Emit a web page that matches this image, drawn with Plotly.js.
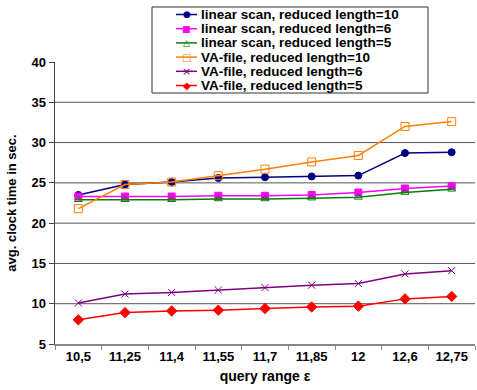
<!DOCTYPE html>
<html>
<head>
<meta charset="utf-8">
<script src="https://cdn.plot.ly/plotly-3.0.1.min.js"></script>
<style>html,body{margin:0;padding:0;background:#fff;}#chart{width:477px;height:390px;}</style>
</head>
<body>
<div id="chart"></div>
<script>
// ---- data ----
const categories = ["10,5", "11,25", "11,4", "11,55", "11,7", "11,85", "12", "12,6", "12,75"];
const seriesNames = [
  "linear scan, reduced length=10",
  "linear scan, reduced length=6",
  "linear scan, reduced length=5",
  "VA-file, reduced length=10",
  "VA-file, reduced length=6",
  "VA-file, reduced length=5"
];
const linearScan10 = [23.5, 24.8, 25.1, 25.6, 25.7, 25.8, 25.9, 28.7, 28.8];
const linearScan6  = [23.3, 23.3, 23.3, 23.4, 23.4, 23.5, 23.8, 24.3, 24.6];
const linearScan5  = [22.9, 22.9, 22.9, 23.0, 23.0, 23.1, 23.2, 23.8, 24.2];
const vaFile10     = [21.8, 24.8, 25.1, 25.9, 26.7, 27.6, 28.4, 32.0, 32.6];
const vaFile6      = [10.1, 11.2, 11.4, 11.7, 12.0, 12.3, 12.5, 13.7, 14.1];
const vaFile5      = [8.0, 8.9, 9.1, 9.2, 9.4, 9.6, 9.7, 10.6, 10.9];
const yTicks = [5, 10, 15, 20, 25, 30, 35, 40];
const gridValues = [10, 15, 20, 25, 30, 35];

// ---- styles ----
const allValues = [linearScan10, linearScan6, linearScan5, vaFile10, vaFile6, vaFile5];
const colors = ["#000080", "#ff00ff", "#008000", "#ff8000", "#800080", "#ff0000"];
const symbols = ["circle", "square", "triangle-up-open", "square-open", "x-thin-open", "diamond"];
const sizes = [7, 7, 7, 8, 7, 8];
const glyphs = ["●", "■", "△", "□", "×", "◆"];
const glyphSizes = [9, 9, 9, 10, 11, 10];

const FONT = "'Liberation Sans', Arial, sans-serif";
const LEGEND_TEXT_WIDTH = 200;   // target width of the longest legend entry (px)

const traces = allValues.map((vals, i) => ({
  type: "scatter",
  mode: "lines+markers",
  x: categories,
  y: vals,
  name: seriesNames[i],
  line: {color: colors[i], width: 1.5},
  marker: {symbol: symbols[i], size: sizes[i], color: colors[i],
           line: {color: colors[i], width: 1}},
  showlegend: false
}));

// grid lines (no line at 40)
const shapes = gridValues.map(v => ({
  type: "line", xref: "paper", yref: "y", x0: 0, x1: 1, y0: v, y1: v,
  line: {color: "#555", width: 1}, layer: "below"
}));

// manual legend (compact, Excel-like)
const plotH = 282, plotBottomPx = 344, plotLeftPx = 55, plotW = 420;
const px2x = px => (px - plotLeftPx) / plotW;
const py2y = py => (plotBottomPx - py) / plotH;
shapes.push({
  type: "rect", xref: "paper", yref: "paper",
  x0: px2x(152), x1: px2x(428), y0: py2y(93), y1: py2y(7),
  fillcolor: "#fff", line: {color: "#333", width: 1}, layer: "above"
});
const annotations = [];
const legendTextIdx = [];
seriesNames.forEach((name, i) => {
  const rowPy = 14.5 + i * 14.2;
  shapes.push({
    type: "line", xref: "paper", yref: "paper",
    x0: px2x(176), x1: px2x(197), y0: py2y(rowPy), y1: py2y(rowPy),
    line: {color: colors[i], width: 1.5}, layer: "above"
  });
  annotations.push({
    xref: "paper", yref: "paper", x: px2x(186.5), y: py2y(rowPy),
    text: glyphs[i], showarrow: false, xanchor: "center", yanchor: "middle",
    font: {family: "DejaVu Sans", size: glyphSizes[i], color: colors[i]}
  });
  legendTextIdx.push(annotations.length);
  annotations.push({
    xref: "paper", yref: "paper", x: px2x(199), y: py2y(rowPy),
    text: name, showarrow: false, xanchor: "left", yanchor: "middle",
    font: {family: FONT, size: 13.5, color: "#000", weight: "bold"}
  });
});

const layout = {
  width: 477, height: 390,
  margin: {l: 55, r: 2, t: 62, b: 46},
  paper_bgcolor: "#fff", plot_bgcolor: "#fff",
  font: {family: FONT, size: 13, color: "#000"},
  showlegend: false,
  xaxis: {
    type: "category", range: [-0.5, categories.length - 0.5],
    showgrid: false, zeroline: false,
    showline: true, linecolor: "#888", linewidth: 1.5,
    ticks: "outside", tickson: "boundaries", ticklen: 4, tickcolor: "#888",
    tickfont: {family: FONT, size: 13, color: "#000", weight: "bold"},
    title: {text: "query range ε", font: {family: FONT, size: 14, color: "#000", weight: "bold"}, standoff: 8}
  },
  yaxis: {
    range: [5, 40], tickvals: yTicks, ticktext: yTicks.map(String),
    showgrid: false, zeroline: false,
    showline: true, linecolor: "#444", linewidth: 1.5,
    ticks: "outside", ticklen: 5, tickcolor: "#444",
    tickfont: {family: FONT, size: 13, color: "#000", weight: "bold"},
    title: {text: "avg. clock time in sec.", font: {family: FONT, size: 13, color: "#000", weight: "bold"}, standoff: 12}
  },
  shapes: shapes,
  annotations: annotations
};

Plotly.newPlot("chart", traces, layout, {displayModeBar: false, staticPlot: true}).then(gd => {
  // fit legend font so the longest entry has the reference width
  const texts = gd.querySelectorAll(".annotation-text");
  const el = texts[legendTextIdx[0]];
  if (!el) return;
  const w = el.getBBox().width;
  if (!(w > 0)) return;
  let size = 13.5 * LEGEND_TEXT_WIDTH / w;
  size = Math.max(11, Math.min(16, size));
  if (Math.abs(size - 13.5) < 0.2) return;
  const upd = {};
  legendTextIdx.forEach(k => { upd["annotations[" + k + "].font.size"] = size; });
  return Plotly.relayout(gd, upd);
});
</script>
</body>
</html>
